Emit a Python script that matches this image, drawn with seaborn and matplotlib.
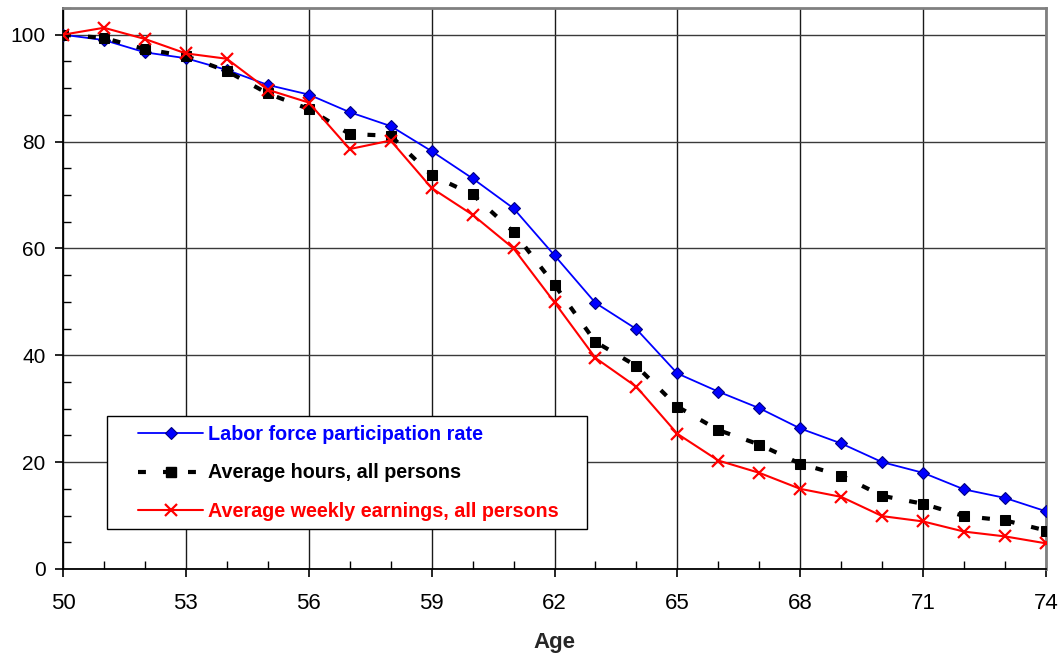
import numpy as np
import pandas as pd
import matplotlib
matplotlib.use("Agg")
import matplotlib.pyplot as plt
import seaborn as sns
from matplotlib.ticker import MultipleLocator, FixedLocator
from matplotlib.patches import Rectangle
from matplotlib.lines import Line2D

ages = list(range(50, 75))
participation = [100, 99.0, 96.7, 95.6, 93.4, 90.6, 88.8, 85.5, 82.9, 78.2, 73.1, 67.5, 58.7,
                 49.8, 44.9, 36.6, 33.2, 30.1, 26.3, 23.5, 20.0, 18.0, 14.9, 13.3, 10.8]
hours = [100, 99.4, 97.3, 96.0, 93.2, 89.0, 86.1, 81.4, 81.1, 73.7, 70.1, 63.1, 53.2,
         42.5, 38.0, 30.4, 26.0, 23.3, 19.7, 17.5, 13.7, 12.2, 9.9, 9.1, 7.2]
earnings = [100, 101.3, 99.2, 96.5, 95.5, 89.7, 87.3, 78.6, 80.2, 71.3, 66.3, 60.0, 49.9,
            39.5, 34.1, 25.3, 20.3, 18.0, 15.0, 13.5, 9.9, 8.9, 7.0, 6.1, 4.8]
x_ticks = [50, 53, 56, 59, 62, 65, 68, 71, 74]
y_ticks = [0, 20, 40, 60, 80, 100]
labels = ["Labor force participation rate", "Average hours, all persons",
          "Average weekly earnings, all persons"]
x_label = "Age"

sns.set_theme(style="white")
plt.rcParams['font.family'] = ['Liberation Sans', 'DejaVu Sans']

fig = plt.figure(figsize=(10.6, 6.54), dpi=100)
ax = fig.add_axes([63/1060, 85/654, 983/1060, 561/654])

df = pd.DataFrame({"age": ages, "p": participation, "h": hours, "e": earnings})

sns.lineplot(data=df, x="age", y="p", ax=ax, color="#0000FF", lw=1.3, marker="D",
             markersize=6.2, markerfacecolor="#0000FF", markeredgecolor="#000080",
             markeredgewidth=0.8, zorder=3)
sns.lineplot(data=df, x="age", y="h", ax=ax, color="black", lw=3, marker="s",
             markersize=7.5, markerfacecolor="black", markeredgecolor="black",
             dashes=False, zorder=3.1)
ax.lines[-1].set_dashes((1.9, 4.1))
ax.lines[-1].set_dash_capstyle("butt")
sns.lineplot(data=df, x="age", y="e", ax=ax, color="#FF0000", lw=1.5, marker="x",
             markersize=8.5, markeredgewidth=1.6, markeredgecolor="#FF0000", zorder=3.2)

ax.set_xlim(50, 74)
ax.set_ylim(0, 105)
ax.xaxis.set_major_locator(FixedLocator(x_ticks))
ax.xaxis.set_minor_locator(MultipleLocator(1))
ax.yaxis.set_major_locator(FixedLocator(y_ticks))
ax.yaxis.set_minor_locator(MultipleLocator(5))

ax.grid(False)
for xv in x_ticks:
    ax.axvline(xv, color="#1a1a1a", lw=1.0, zorder=1)
for yv in y_ticks:
    ax.axhline(yv, color="#3a3a3a", lw=1.0, zorder=1)

for s in ["left", "bottom"]:
    ax.spines[s].set_color("black")
    ax.spines[s].set_linewidth(1.3)
    ax.spines[s].set_zorder(2.5)
for s in ["top", "right"]:
    ax.spines[s].set_color("#808080")
    ax.spines[s].set_linewidth(2.0)

ax.tick_params(which="major", direction="out", length=6, width=1.2, color="black",
               labelcolor="black", left=True, bottom=True)
ax.tick_params(axis="y", which="major", pad=6.5, labelsize=15)
ax.tick_params(axis="x", which="major", pad=11.5, labelsize=16)
ax.tick_params(which="minor", direction="in", length=6, width=1.0, color="black",
               left=True, bottom=True)

ax.set_xlabel(x_label, fontsize=16, fontweight="bold", labelpad=13)
ax.set_ylabel("")

# legend box
x0 = (107 - 63) / 983
x1 = (587 - 63) / 983
y0 = (569 - 529) / 561
y1 = (569 - 416) / 561
ax.add_patch(Rectangle((x0, y0), x1 - x0, y1 - y0, transform=ax.transAxes,
                       facecolor="white", edgecolor="black", lw=1.0, zorder=4))

h1 = Line2D([], [], color="#0000FF", lw=1.3, marker="D", markersize=6.2,
            markerfacecolor="#0000FF", markeredgecolor="#000080", markeredgewidth=0.8)
h2 = Line2D([], [], color="black", lw=3, marker="s", markersize=7.5,
            dashes=(1.9, 4.1), dash_capstyle="butt")
h3 = Line2D([], [], color="#FF0000", lw=1.5, marker="x", markersize=8.5, markeredgewidth=1.6)
leg = ax.legend([h1, h2, h3], labels, loc="center left",
                bbox_to_anchor=((138 - 63) / 983, (569 - 473) / 561),
                frameon=False, borderpad=0, borderaxespad=0, handlelength=3.3,
                handletextpad=0.25, labelspacing=0.98,
                prop={"weight": "bold", "size": 14.2},
                labelcolor=["#0000FF", "black", "#FF0000"])
leg.set_zorder(5)

fig.savefig("out.png", dpi=100)
